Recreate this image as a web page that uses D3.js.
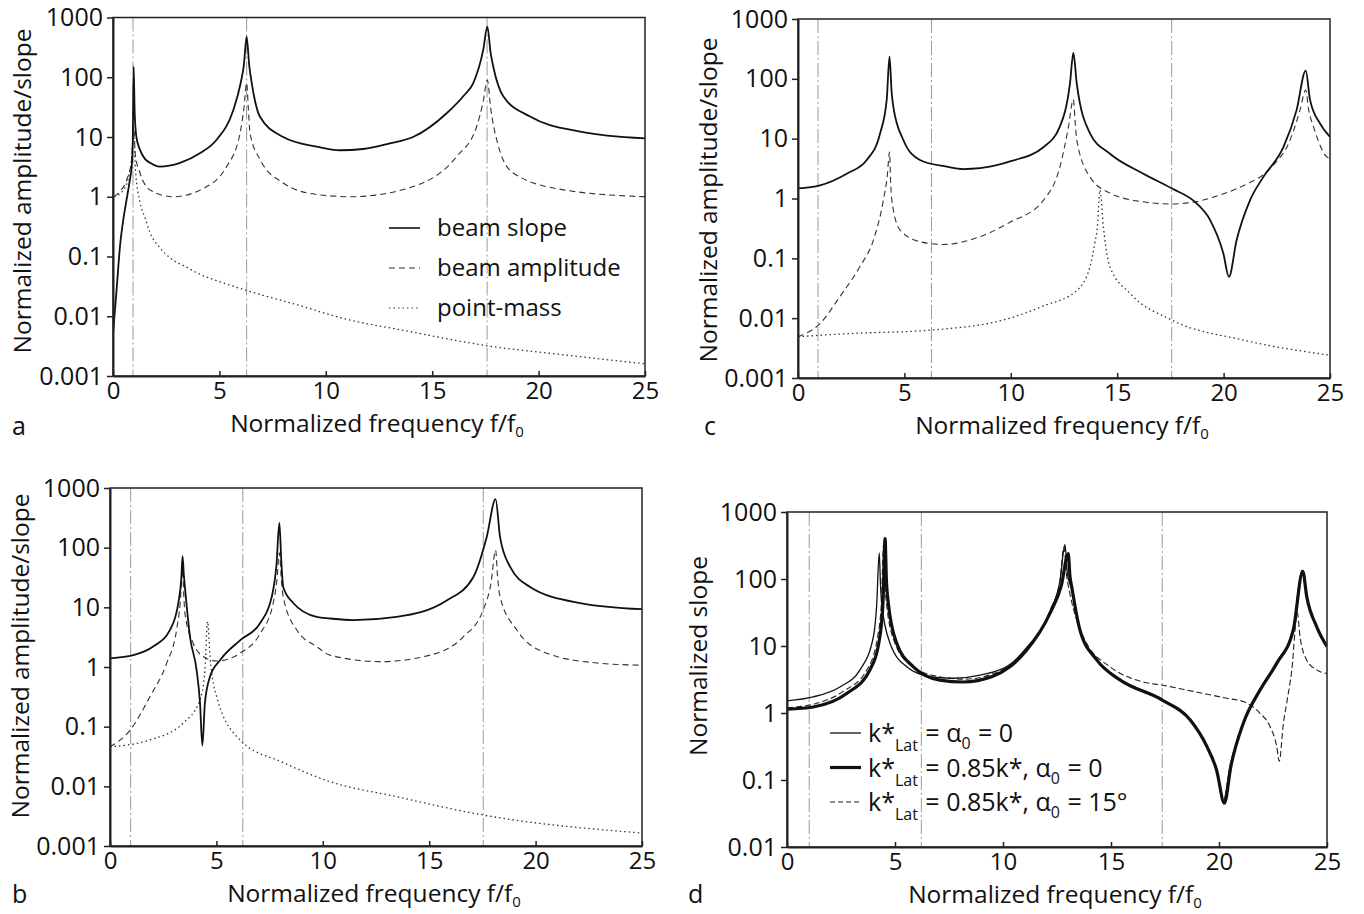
<!DOCTYPE html>
<html>
<head>
<meta charset="utf-8">
<script src="https://cdn.jsdelivr.net/npm/d3@7"></script>
<style>
  body { margin: 0; background: #fff; }
  text { font-family: "Open Sans", "Noto Sans", sans-serif; fill: #111; }
</style>
</head>
<body>
<script>
// tick values shared by all panels
var xTicks = [0, 5, 10, 15, 20, 25];
var yTicks3 = [0.001, 0.01, 0.1, 1, 10, 100, 1000];
var yLabels3 = ["0.001", "0.01", "0.1", "1", "10", "100", "1000"];
var yTicks2 = [0.01, 0.1, 1, 10, 100, 1000];
var yLabels2 = ["0.01", "0.1", "1", "10", "100", "1000"];

// beam natural frequencies (vertical dash-dot lines)
var modesA = [0.94, 6.28, 17.58];
var modesB = [0.97, 6.24, 17.54];
var modesC = [0.94, 6.27, 17.56];
var modesD = [1.03, 6.22, 17.37];

// panel a
var aSlope = [[0,0.005],[0.17,0.028],[0.33,0.15],[0.5,0.45],[0.64,0.9],[0.8,2],[0.88,3.2],[0.93,9],[0.97,150],[1.02,25],[1.1,10],[1.27,6.1],[1.5,4.3],[1.74,3.7],[2.2,3.2],[3.15,3.7],[4.1,5.4],[4.87,9],[5.65,28],[6.0,80],[6.15,160],[6.28,480],[6.4,160],[6.52,80],[6.9,22],[8.0,10],[9.57,6.9],[10.67,6.0],[11.75,6.3],[13,7.8],[14.1,10],[15.68,25],[16.5,50],[16.93,80],[17.4,290],[17.59,700],[17.75,250],[17.87,150],[18.34,48],[19.6,22],[21.95,12.3],[25,9.5]];
var aAmp = [[0.05,1.0],[0.3,1.2],[0.64,1.9],[0.88,4.2],[0.97,15],[1.05,5],[1.27,2.5],[1.74,1.3],[2.83,1.0],[4.1,1.3],[5.34,3.2],[5.97,11.5],[6.15,30],[6.28,80],[6.36,30],[6.44,11.5],[6.91,4.2],[8.0,1.7],[9.5,1.1],[11.2,1.0],[14.1,1.48],[16.15,4.7],[17.09,15],[17.4,40],[17.59,90],[17.75,30],[18.03,9],[18.8,2.5],[21.2,1.3],[25,1.0]];
var aMass = [[0.05,1.0],[0.5,1.3],[0.75,2.3],[0.88,4.5],[0.97,12],[1.05,3],[1.27,0.8],[1.5,0.45],[1.74,0.25],[2.2,0.14],[2.68,0.095],[3.5,0.065],[4.1,0.05],[5,0.038],[6.28,0.027],[8.8,0.015],[10.67,0.0095],[14,0.0055],[17.59,0.0032],[21,0.0023],[25,0.0016]];

// panel b
var bSlope = [[0,1.4],[1.1,1.58],[2.03,2.2],[2.82,4.2],[3.21,11.8],[3.35,30],[3.41,72],[3.47,35],[3.52,22],[3.76,3.2],[4.07,0.89],[4.23,0.25],[4.34,0.048],[4.46,0.25],[4.7,0.69],[5.17,1.3],[6.11,2.8],[7.05,5.4],[7.6,15],[7.82,50],[7.96,260],[8.05,60],[8.14,22],[8.61,11.8],[9.71,6.9],[10.34,6.5],[11.43,6.1],[13.47,6.9],[15.82,13],[17.07,32],[17.7,150],[18.12,650],[18.33,150],[18.8,48],[19.74,22],[22.09,11.8],[25,9.3]];
var bAmp = [[0,0.046],[0.94,0.087],[1.88,0.32],[2.66,1.15],[3.13,4.2],[3.3,12],[3.41,43],[3.47,15],[3.52,8],[3.91,2.5],[4.38,1.5],[5.01,1.26],[6.11,1.7],[7.05,3.6],[7.67,11.8],[7.85,30],[7.96,82],[8.05,30],[8.14,15],[8.77,4.2],[9.71,2.2],[10.34,1.58],[12.69,1.23],[15.04,1.58],[16.6,3.2],[17.54,9.1],[17.9,25],[18.12,91],[18.22,30],[18.33,15],[19.11,4.2],[20.52,1.7],[22.87,1.17],[25,1.07]];
var bMass = [[0,0.046],[1.88,0.06],[3.44,0.115],[4.23,0.28],[4.46,0.89],[4.59,5.8],[4.7,1.48],[5.01,0.32],[6.11,0.06],[8.14,0.025],[10.34,0.012],[13.47,0.0067],[17.54,0.0033],[25,0.00165]];

// panel c
var cSlope = [[0,1.48],[1.03,1.66],[2.29,2.6],[3.23,4.4],[3.85,12],[4.17,45],[4.3,235],[4.4,60],[4.48,34],[4.95,9.5],[5.73,4.4],[6.99,3.4],[7.77,3.1],[9.34,3.6],[10.0,4.2],[11.53,7.2],[12.31,16],[12.78,83],[12.94,270],[13.1,83],[13.72,12.3],[14.66,5.6],[16.23,2.6],[17.56,1.48],[18.73,0.83],[19.36,0.44],[19.99,0.12],[20.25,0.049],[20.61,0.2],[21.24,0.93],[21.87,2.3],[22.81,7.2],[23.43,30],[23.86,137],[24.06,45],[24.53,18],[25,10.7]];
var cAmp = [[0,0.0049],[1.03,0.0081],[1.97,0.023],[2.91,0.073],[3.54,0.2],[4.01,0.93],[4.2,2.5],[4.3,6.0],[4.35,2],[4.41,0.93],[4.79,0.3],[5.73,0.19],[6.83,0.17],[8.55,0.23],[9.96,0.4],[11.53,0.93],[12.31,3.4],[12.7,15],[12.94,45],[13.02,20],[13.1,9.5],[13.72,2.3],[14.66,1.23],[16.23,0.88],[17.48,0.81],[18.5,0.86],[19.5,1.05],[20.5,1.4],[21.3,1.9],[21.87,2.5],[22.5,4.2],[22.97,7.2],[23.3,14],[23.59,30],[23.86,65],[24.0,30],[24.22,16],[24.84,5],[25,4.6]];
var cMass = [[0,0.0049],[2.29,0.0055],[6.2,0.0063],[9.96,0.01],[11.53,0.016],[13.1,0.029],[13.72,0.072],[13.95,0.18],[14.07,0.34],[14.19,1.38],[14.35,0.34],[14.45,0.17],[14.66,0.072],[15.6,0.026],[17.56,0.0093],[20.92,0.0043],[25,0.0024]];

// panel d
var dRef = [[0,1.52],[1.22,1.74],[2.45,2.45],[3.38,4.4],[4.0,13.8],[4.15,40],[4.27,245],[4.33,80],[4.38,44],[4.77,11],[5.54,4.9],[6.62,3.5],[7.7,3.3],[9.0,3.7],[10.32,5.3],[11.1,9.5],[12.18,33],[12.64,95],[12.87,325],[12.98,120],[13.18,70],[13.56,17],[14.34,6.2],[15.42,3.2],[17.37,1.6],[18.66,0.8],[19.43,0.33],[19.89,0.14],[20.2,0.048],[20.51,0.16],[21.13,0.72],[21.9,2.3],[22.67,5.6],[23.44,18],[23.84,135],[24.06,55],[24.52,19.5],[25,9.8]];
var dStiff = [[0,1.14],[1.22,1.23],[2.76,1.95],[3.84,4.4],[4.3,13.8],[4.45,50],[4.54,400],[4.6,100],[4.69,44],[5.08,11],[5.85,4.9],[7.08,3.1],[8.16,2.9],[9.5,3.5],[10.32,4.9],[11.1,8.7],[12.18,31],[12.7,80],[13.02,240],[13.1,110],[13.18,77],[13.56,17.5],[14.34,6.2],[15.42,3.1],[17.37,1.56],[18.66,0.79],[19.43,0.32],[19.89,0.14],[20.25,0.045],[20.55,0.16],[21.13,0.71],[21.9,2.2],[22.67,5.5],[23.44,17.5],[23.88,130],[24.06,55],[24.52,19.5],[25,9.8]];
var dTilt = [[0,1.2],[1.22,1.35],[2.6,2.1],[3.7,4.4],[4.2,14],[4.38,50],[4.47,330],[4.53,90],[4.62,40],[5.0,11],[5.8,5],[7.0,3.5],[8.2,3.2],[9.5,3.8],[10.32,5.2],[11.1,9.3],[12.18,34],[12.64,95],[12.82,300],[12.95,110],[13.1,60],[13.5,20],[13.87,11],[14.95,4.9],[16.5,2.9],[17.37,2.6],[18.81,2.1],[20.36,1.66],[21.13,1.48],[21.9,0.99],[22.36,0.63],[22.67,0.32],[22.79,0.19],[22.98,0.7],[23.13,1.38],[23.37,4.4],[23.63,31],[23.75,13.8],[24.06,6.2],[24.52,4.4],[25,3.9]];

// line styles
var styles = {
  solid:  { width: 1.8, dash: null, color: "#111" },
  dashed: { width: 1.1, dash: "6,4", color: "#333" },
  dotted: { width: 1.3, dash: "1.5,3", color: "#333" },
  thin:   { width: 1.3, dash: null, color: "#111" },
  thick:  { width: 3.2, dash: null, color: "#111" },
  dash2:  { width: 1.1, dash: "6,3", color: "#222" }
};

var svg = d3.select("body").append("svg")
    .attr("width", 1364)
    .attr("height", 914);

var panels = [
  { id: "a", left: 113, right: 645, top: 17.5, bottom: 376, ymin: 0.001, ticks: yTicks3, labels: yLabels3,
    modes: modesA, ytitle: "Normalized amplitude/slope", ytx: 31, yty: 191, lab: [12, 435],
    series: [[aMass, "dotted"], [aAmp, "dashed"], [aSlope, "solid"]] },
  { id: "c", left: 798, right: 1330, top: 19, bottom: 378, ymin: 0.001, ticks: yTicks3, labels: yLabels3,
    modes: modesC, ytitle: "Normalized amplitude/slope", ytx: 717, yty: 200, lab: [704, 435],
    series: [[cMass, "dotted"], [cAmp, "dashed"], [cSlope, "solid"]] },
  { id: "b", left: 110, right: 642, top: 488, bottom: 846, ymin: 0.001, ticks: yTicks3, labels: yLabels3,
    modes: modesB, ytitle: "Normalized amplitude/slope", ytx: 29, yty: 656, lab: [12, 903],
    series: [[bMass, "dotted"], [bAmp, "dashed"], [bSlope, "solid"]] },
  { id: "d", left: 787, right: 1327, top: 512, bottom: 847, ymin: 0.01, ticks: yTicks2, labels: yLabels2,
    modes: modesD, ytitle: "Normalized slope", ytx: 707, yty: 656, lab: [688, 903],
    series: [[dTilt, "dash2"], [dRef, "thin"], [dStiff, "thick"]] }
];

panels.forEach(function(p) {
  var x = d3.scaleLinear().domain([0, 25]).range([p.left, p.right]);
  var y = d3.scaleLog().domain([p.ymin, 1000]).range([p.bottom, p.top]);
  var g = svg.append("g");

  g.append("clipPath").attr("id", "clip-" + p.id)
    .append("rect")
      .attr("x", p.left).attr("y", p.top)
      .attr("width", p.right - p.left).attr("height", p.bottom - p.top);

  // vertical lines at beam eigenfrequencies
  g.selectAll(".mode").data(p.modes).enter()
    .append("line")
      .attr("x1", function(d) { return x(d); })
      .attr("x2", function(d) { return x(d); })
      .attr("y1", p.top).attr("y2", p.bottom)
      .style("stroke", "#9a9a9a")
      .style("stroke-width", 1)
      .style("stroke-dasharray", "14,3,2,3");

  var line = d3.line()
      .x(function(d) { return x(d[0]); })
      .y(function(d) { return y(d[1]); })
      .curve(d3.curveMonotoneX);

  p.series.forEach(function(s) {
    var st = styles[s[1]];
    g.append("path")
      .datum(s[0])
      .attr("d", line)
      .attr("clip-path", "url(#clip-" + p.id + ")")
      .style("fill", "none")
      .style("stroke", st.color)
      .style("stroke-width", st.width)
      .style("stroke-dasharray", st.dash)
      .style("stroke-linejoin", "round");
  });

  // frame
  g.append("rect")
    .attr("x", p.left).attr("y", p.top)
    .attr("width", p.right - p.left).attr("height", p.bottom - p.top)
    .style("fill", "none").style("stroke", "#222").style("stroke-width", 1.5);

  var xa = g.append("g")
    .attr("transform", "translate(0," + p.bottom + ")")
    .call(d3.axisBottom(x).tickValues(xTicks).tickSize(-5).tickSizeOuter(0).tickPadding(6));
  xa.selectAll("text").style("font-size", "24px").style("font-family", "Open Sans");
  xa.selectAll("line").style("stroke", "#222").style("stroke-width", 1.5);
  xa.select(".domain").style("stroke", "#222").style("stroke-width", 2);

  var ya = g.append("g")
    .attr("transform", "translate(" + p.left + ",0)")
    .call(d3.axisLeft(y).tickValues(p.ticks)
      .tickFormat(function(d, i) { return p.labels[i]; })
      .tickSize(6).tickSizeOuter(0).tickPadding(4));
  ya.selectAll("text").style("font-size", "25px").style("font-family", "Open Sans");
  ya.selectAll("line").style("stroke", "#222").style("stroke-width", 1.5);
  ya.select(".domain").style("stroke", "#222").style("stroke-width", 2);

  // axis titles
  var xt = g.append("text")
    .attr("x", (p.left + p.right) / 2 - 2)
    .attr("y", p.bottom + 56)
    .attr("text-anchor", "middle")
    .style("font-size", "24.5px");
  xt.append("tspan").text("Normalized frequency f/f");
  xt.append("tspan").text("0").attr("dy", 5).style("font-size", "15px");

  g.append("text")
    .attr("transform", "translate(" + p.ytx + "," + p.yty + ") rotate(-90)")
    .attr("text-anchor", "middle")
    .style("font-size", "24.5px")
    .text(p.ytitle);

  g.append("text")
    .attr("x", p.lab[0]).attr("y", p.lab[1])
    .style("font-size", "25px")
    .text(p.id);
});

// legend, panel a
var legA = [["beam slope", "solid"], ["beam amplitude", "dashed"], ["point-mass", "dotted"]];
var la = svg.append("g");
legA.forEach(function(e, i) {
  var st = styles[e[1]];
  var yy = 228 + i * 40;
  la.append("line").attr("x1", 389).attr("x2", 420).attr("y1", yy).attr("y2", yy)
    .style("stroke", st.color).style("stroke-width", e[1] === "solid" ? 1.6 : 1.1)
    .style("stroke-dasharray", st.dash);
  la.append("text").attr("x", 437).attr("y", yy + 8)
    .style("font-size", "24px").text(e[0]);
});

// legend, panel d
var legD = [
  ["thin",  ["k*", "Lat", " = \u03b1", "0", " = 0"]],
  ["thick", ["k*", "Lat", " = 0.85k*, \u03b1", "0", " = 0"]],
  ["dash2", ["k*", "Lat", " = 0.85k*, \u03b1", "0", " = 15\u00b0"]]
];
var ld = svg.append("g");
legD.forEach(function(e, i) {
  var st = styles[e[0]];
  var yy = 733 + i * 34.5;
  ld.append("line").attr("x1", 830).attr("x2", 861).attr("y1", yy).attr("y2", yy)
    .style("stroke", st.color).style("stroke-width", st.width)
    .style("stroke-dasharray", e[0] === "dash2" ? "5,3" : null);
  var t = ld.append("text").attr("x", 868).attr("y", yy + 9).style("font-size", "25px");
  var parts = e[1];
  t.append("tspan").text(parts[0]);
  t.append("tspan").text(parts[1]).attr("dy", 9).style("font-size", "16px");
  t.append("tspan").text(parts[2]).attr("dy", -9).attr("dx", 1);
  t.append("tspan").text(parts[3]).attr("dy", 7).style("font-size", "16px");
  t.append("tspan").text(parts[4]).attr("dy", -7).attr("dx", 1);
});
</script>
</body>
</html>
